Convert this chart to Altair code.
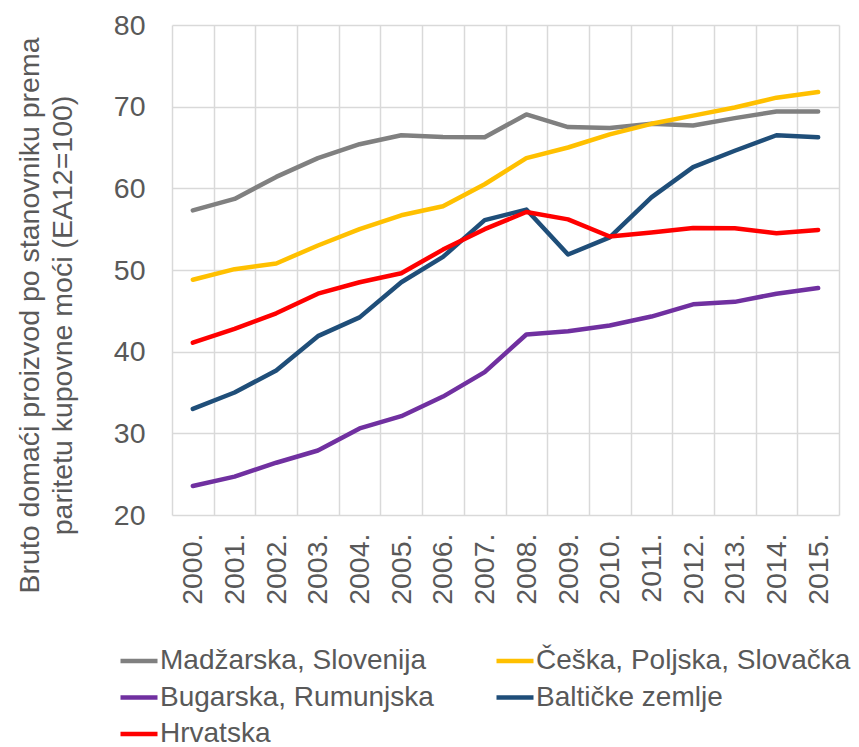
import altair as alt
import pandas as pd

years = ["2000.", "2001.", "2002.", "2003.", "2004.", "2005.", "2006.", "2007.",
         "2008.", "2009.", "2010.", "2011.", "2012.", "2013.", "2014.", "2015."]
# legend is laid out column by column: column 1 then column 2
series_names = ["Madžarska, Slovenija", "Bugarska, Rumunjska", "Hrvatska",
                "Češka, Poljska, Slovačka", "Baltičke zemlje"]
colors = ["#808080", "#7030A0", "#FF0000", "#FFC000", "#1F4E79"]

hu_si = [57.3, 58.7, 61.4, 63.7, 65.4, 66.5, 66.3, 66.25, 69.05, 67.5, 67.4, 67.9, 67.7, 68.6, 69.4, 69.4]
cz_pl_sk = [48.8, 50.1, 50.8, 53.0, 55.0, 56.7, 57.8, 60.5, 63.7, 65.0, 66.6, 67.9, 68.9, 69.9, 71.1, 71.8]
bg_ro = [23.55, 24.7, 26.4, 27.9, 30.6, 32.1, 34.5, 37.5, 42.1, 42.5, 43.2, 44.3, 45.8, 46.1, 47.1, 47.8]
baltic = [33.0, 35.0, 37.7, 41.9, 44.2, 48.5, 51.6, 56.1, 57.4, 51.9, 54.0, 58.9, 62.6, 64.6, 66.5, 66.25]
hr = [41.1, 42.8, 44.7, 47.1, 48.5, 49.6, 52.5, 55.0, 57.1, 56.2, 54.1, 54.6, 55.15, 55.1, 54.5, 54.9]

y_ticks = [20, 30, 40, 50, 60, 70, 80]
y_title = ["Bruto domaći proizvod po stanovniku prema", "paritetu kupovne moći (EA12=100)"]

# drawing order: grey, yellow, purple, blue, red (red on top)
draw_order = [("Madžarska, Slovenija", hu_si), ("Češka, Poljska, Slovačka", cz_pl_sk),
              ("Bugarska, Rumunjska", bg_ro), ("Baltičke zemlje", baltic), ("Hrvatska", hr)]
rows = []
for name, vals in draw_order:
    for yr, v in zip(years, vals):
        rows.append({"year": yr, "series": name, "value": v})
df = pd.DataFrame(rows)

FONT = "Liberation Sans"
TXT = "#595959"
GRID = "#D9D9D9"
FS = 28.5
LFS = 28

chart = alt.Chart(df).mark_line(strokeWidth=4.5, strokeCap="round", strokeJoin="round").encode(
    x=alt.X("year:O", sort=years,
            scale=alt.Scale(type="band", paddingInner=0, paddingOuter=0),
            axis=alt.Axis(title=None, tickBand="extent", labelAngle=-90, labelPadding=18,
                          labelFontSize=FS, labelColor=TXT, labelFont=FONT,
                          grid=True, gridColor=GRID, gridWidth=1.5,
                          domain=False, ticks=False)),
    y=alt.Y("value:Q", scale=alt.Scale(domain=[20, 80], nice=False, zero=False),
            axis=alt.Axis(title=y_title, values=y_ticks, labelPadding=27,
                          labelFontSize=FS, labelColor=TXT, labelFont=FONT,
                          titleFontSize=FS, titleColor=TXT, titleFont=FONT,
                          titleFontWeight="normal", titleX=-143, titleY=290,
                          titleAlign="center", titleBaseline="middle", titleLineHeight=33,
                          grid=True, gridColor=GRID, gridWidth=1.5,
                          domain=False, ticks=False)),
    color=alt.Color("series:N", scale=alt.Scale(domain=series_names, range=colors),
                    legend=alt.Legend(title=None, orient="none", legendX=-54, legendY=615,
                                      columns=2, columnPadding=53, rowPadding=1.5, padding=0,
                                      symbolType="stroke", symbolSize=1369, symbolStrokeWidth=4.5,
                                      labelFontSize=LFS, labelColor=TXT, labelFont=FONT,
                                      labelOffset=0, labelLimit=600)),
).properties(
    width=667, height=490,
    autosize=alt.AutoSizeParams(type="none"),
    padding={"left": 164, "top": 17, "right": 12, "bottom": 232},
).configure_view(stroke=None)

chart.save("out.html", embed_options={"renderer": "svg", "actions": False})
